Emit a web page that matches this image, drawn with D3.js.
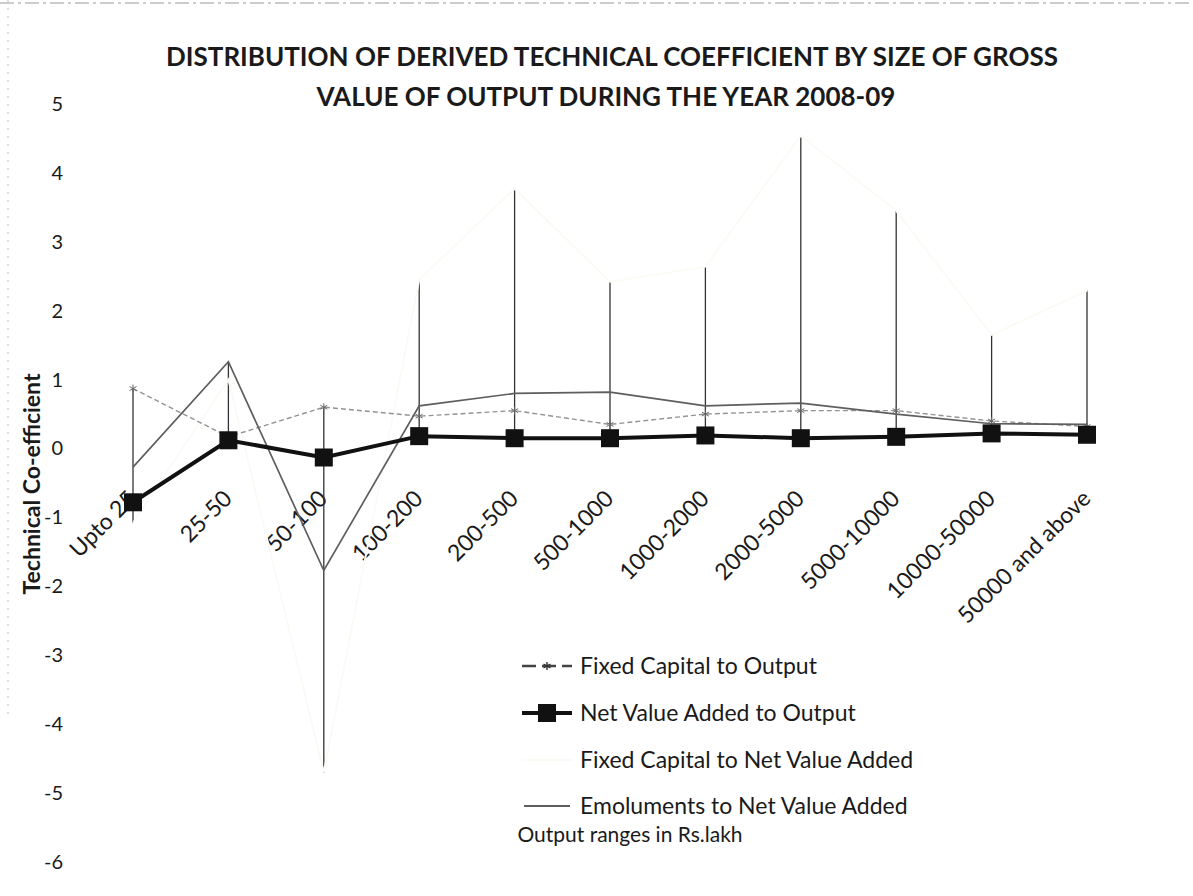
<!DOCTYPE html>
<html>
<meta charset="utf-8">
<head>
    <title>Technical Coefficient by Size of Output</title>
    <script src="https://d3js.org/d3.v7.min.js" charset="utf-8"></script>
    <style>
    body { margin: 0; background: white; }
    text { font-family: Lato, "Open Sans", sans-serif; fill: #1a1a1a; }
    </style>
</head>
<body>
<script>

// Chart data
var categories = ["Upto 25", "25-50", "50-100", "100-200", "200-500", "500-1000",
    "1000-2000", "2000-5000", "5000-10000", "10000-50000", "50000 and above"];
var fcToOutput  = [0.87, 0.17, 0.60, 0.47, 0.55, 0.35, 0.50, 0.55, 0.55, 0.40, 0.32];
var nvaToOutput = [-0.78, 0.12, -0.13, 0.18, 0.15, 0.15, 0.19, 0.15, 0.17, 0.22, 0.20];
var fcToNva     = [-1.08, 1.00, -4.70, 2.45, 3.77, 2.42, 2.64, 4.54, 3.45, 1.65, 2.29];
var emolToNva   = [-0.27, 1.26, -1.77, 0.62, 0.80, 0.82, 0.62, 0.66, 0.50, 0.36, 0.35];
var yTicks = [5, 4, 3, 2, 1, 0, -1, -2, -3, -4, -5, -6];
var seriesNames = ["Fixed Capital to Output", "Net Value Added to Output",
    "Fixed Capital to Net Value Added", "Emoluments to Net Value Added"];

var width = 1193;
var height = 896;

var svg = d3.select("body")
    .append("svg")
    .attr("width", width)
    .attr("height", height);

// scan border remnants
svg.append("line")
    .attr("x1", 0).attr("x2", width).attr("y1", 3).attr("y2", 3)
    .attr("stroke", "#999").attr("stroke-width", 1).attr("stroke-dasharray", "14,4,3,4");
svg.append("line")
    .attr("x1", 8).attr("x2", 8).attr("y1", 0).attr("y2", 720)
    .attr("stroke", "#bbb").attr("stroke-width", 1).attr("stroke-dasharray", "2,6");

var x = d3.scalePoint()
    .domain(categories)
    .range([133, 1087]);

var y = d3.scaleLinear()
    .domain([-6, 5])
    .range([862, 104]);

// Title
var title = svg.append("text")
    .attr("text-anchor", "middle")
    .style("font-size", "26px")
    .style("font-weight", "bold");
title.append("tspan").attr("x", 612).attr("y", 66)
    .text("DISTRIBUTION OF DERIVED TECHNICAL COEFFICIENT BY SIZE OF GROSS");
title.append("tspan").attr("x", 606).attr("y", 106)
    .text("VALUE OF OUTPUT DURING THE YEAR 2008-09");

// Y axis (labels only, as in the original)
var yAxis = d3.axisLeft(y).tickValues(yTicks).tickSize(0).tickPadding(0)
    .tickFormat(function(d) { return d < 0 ? "-" + Math.abs(d) : d; });
var yg = svg.append("g")
    .attr("transform", "translate(63,0)")
    .call(yAxis);
yg.select(".domain").remove();
yg.selectAll("text")
    .style("font-size", "20px")
    .style("font-family", "Lato, sans-serif")
    .attr("fill", "#333");

svg.append("text")
    .attr("transform", "translate(40,484) rotate(-90)")
    .attr("text-anchor", "middle")
    .style("font-size", "23px")
    .style("font-weight", "bold")
    .text("Technical Co-efficient");

svg.append("text")
    .attr("x", 630)
    .attr("y", 842)
    .attr("text-anchor", "middle")
    .style("font-size", "21px")
    .text("Output ranges in Rs.lakh");

// Category labels, rotated
svg.append("g")
    .selectAll("text")
    .data(categories)
    .enter()
    .append("text")
    .attr("transform", function(d) { return "translate(" + (x(d) + 5) + "," + 500 + ") rotate(-45)"; })
    .attr("text-anchor", "end")
    .style("font-size", "23px")
    .text(function(d) { return d; });

// High-low lines: from the highest to the lowest value at each category
var all = [fcToOutput, nvaToOutput, fcToNva, emolToNva];
svg.append("g")
    .selectAll("line")
    .data(categories)
    .enter()
    .append("line")
    .attr("x1", function(d) { return x(d); })
    .attr("x2", function(d) { return x(d); })
    .attr("y1", function(d, i) { return y(d3.max(all, function(s) { return s[i]; })); })
    .attr("y2", function(d, i) { return y(d3.min(all, function(s) { return s[i]; })); })
    .attr("stroke", "#333")
    .attr("stroke-width", 1.3);

function lineFor(values) {
    return d3.line()
        .x(function(d, i) { return x(categories[i]); })
        .y(function(d) { return y(d); })(values);
}

// Fixed Capital to Net Value Added (pale, barely visible in the scan)
svg.append("path")
    .attr("d", lineFor(fcToNva))
    .attr("fill", "none")
    .attr("stroke", "#fbfbf6")
    .attr("stroke-width", 2);

// Fixed Capital to Output
svg.append("path")
    .attr("d", lineFor(fcToOutput))
    .attr("fill", "none")
    .attr("stroke", "#939393")
    .attr("stroke-width", 1.4)
    .attr("stroke-dasharray", "5,3");

// Emoluments to Net Value Added
svg.append("path")
    .attr("d", lineFor(emolToNva))
    .attr("fill", "none")
    .attr("stroke", "#5e5e5e")
    .attr("stroke-width", 1.7);

// Net Value Added to Output
svg.append("path")
    .attr("d", lineFor(nvaToOutput))
    .attr("fill", "none")
    .attr("stroke", "#111")
    .attr("stroke-width", 4);

var starSym = d3.symbol().type(d3.symbolAsterisk).size(45);

svg.append("g")
    .selectAll("path")
    .data(fcToOutput)
    .enter()
    .append("path")
    .attr("transform", function(d, i) { return "translate(" + x(categories[i]) + "," + y(d) + ")"; })
    .attr("d", starSym)
    .attr("fill", "none")
    .attr("stroke", "#666")
    .attr("stroke-width", 1);

svg.append("g")
    .selectAll("rect")
    .data(nvaToOutput)
    .enter()
    .append("rect")
    .attr("x", function(d, i) { return x(categories[i]) - 9; })
    .attr("y", function(d) { return y(d) - 9; })
    .attr("width", 18)
    .attr("height", 18)
    .attr("fill", "#111");

// Legend
var legendY = [666, 713, 760, 806];
var legend = svg.append("g");
seriesNames.forEach(function(name, i) {
    var row = legend.append("g").attr("transform", "translate(522," + legendY[i] + ")");
    if (i === 0) {
        row.append("line").attr("x1", 0).attr("x2", 50).attr("stroke", "#444")
            .attr("stroke-width", 2.5).attr("stroke-dasharray", "14,6");
        row.append("path").attr("transform", "translate(25,0)").attr("d", starSym)
            .attr("fill", "none").attr("stroke", "#333").attr("stroke-width", 1.4);
    } else if (i === 1) {
        row.append("line").attr("x1", 0).attr("x2", 50).attr("stroke", "#111").attr("stroke-width", 4);
        row.append("rect").attr("x", 16).attr("y", -9).attr("width", 18).attr("height", 18).attr("fill", "#111");
    } else if (i === 2) {
        row.append("line").attr("x1", 0).attr("x2", 50).attr("stroke", "#fbfbf6").attr("stroke-width", 2);
    } else {
        row.append("line").attr("x1", 2).attr("x2", 48).attr("stroke", "#5e5e5e").attr("stroke-width", 1.8);
    }
    row.append("text")
        .attr("x", 58)
        .attr("y", 8)
        .style("font-size", "23px")
        .text(name);
});

</script>
</body>
</html>
